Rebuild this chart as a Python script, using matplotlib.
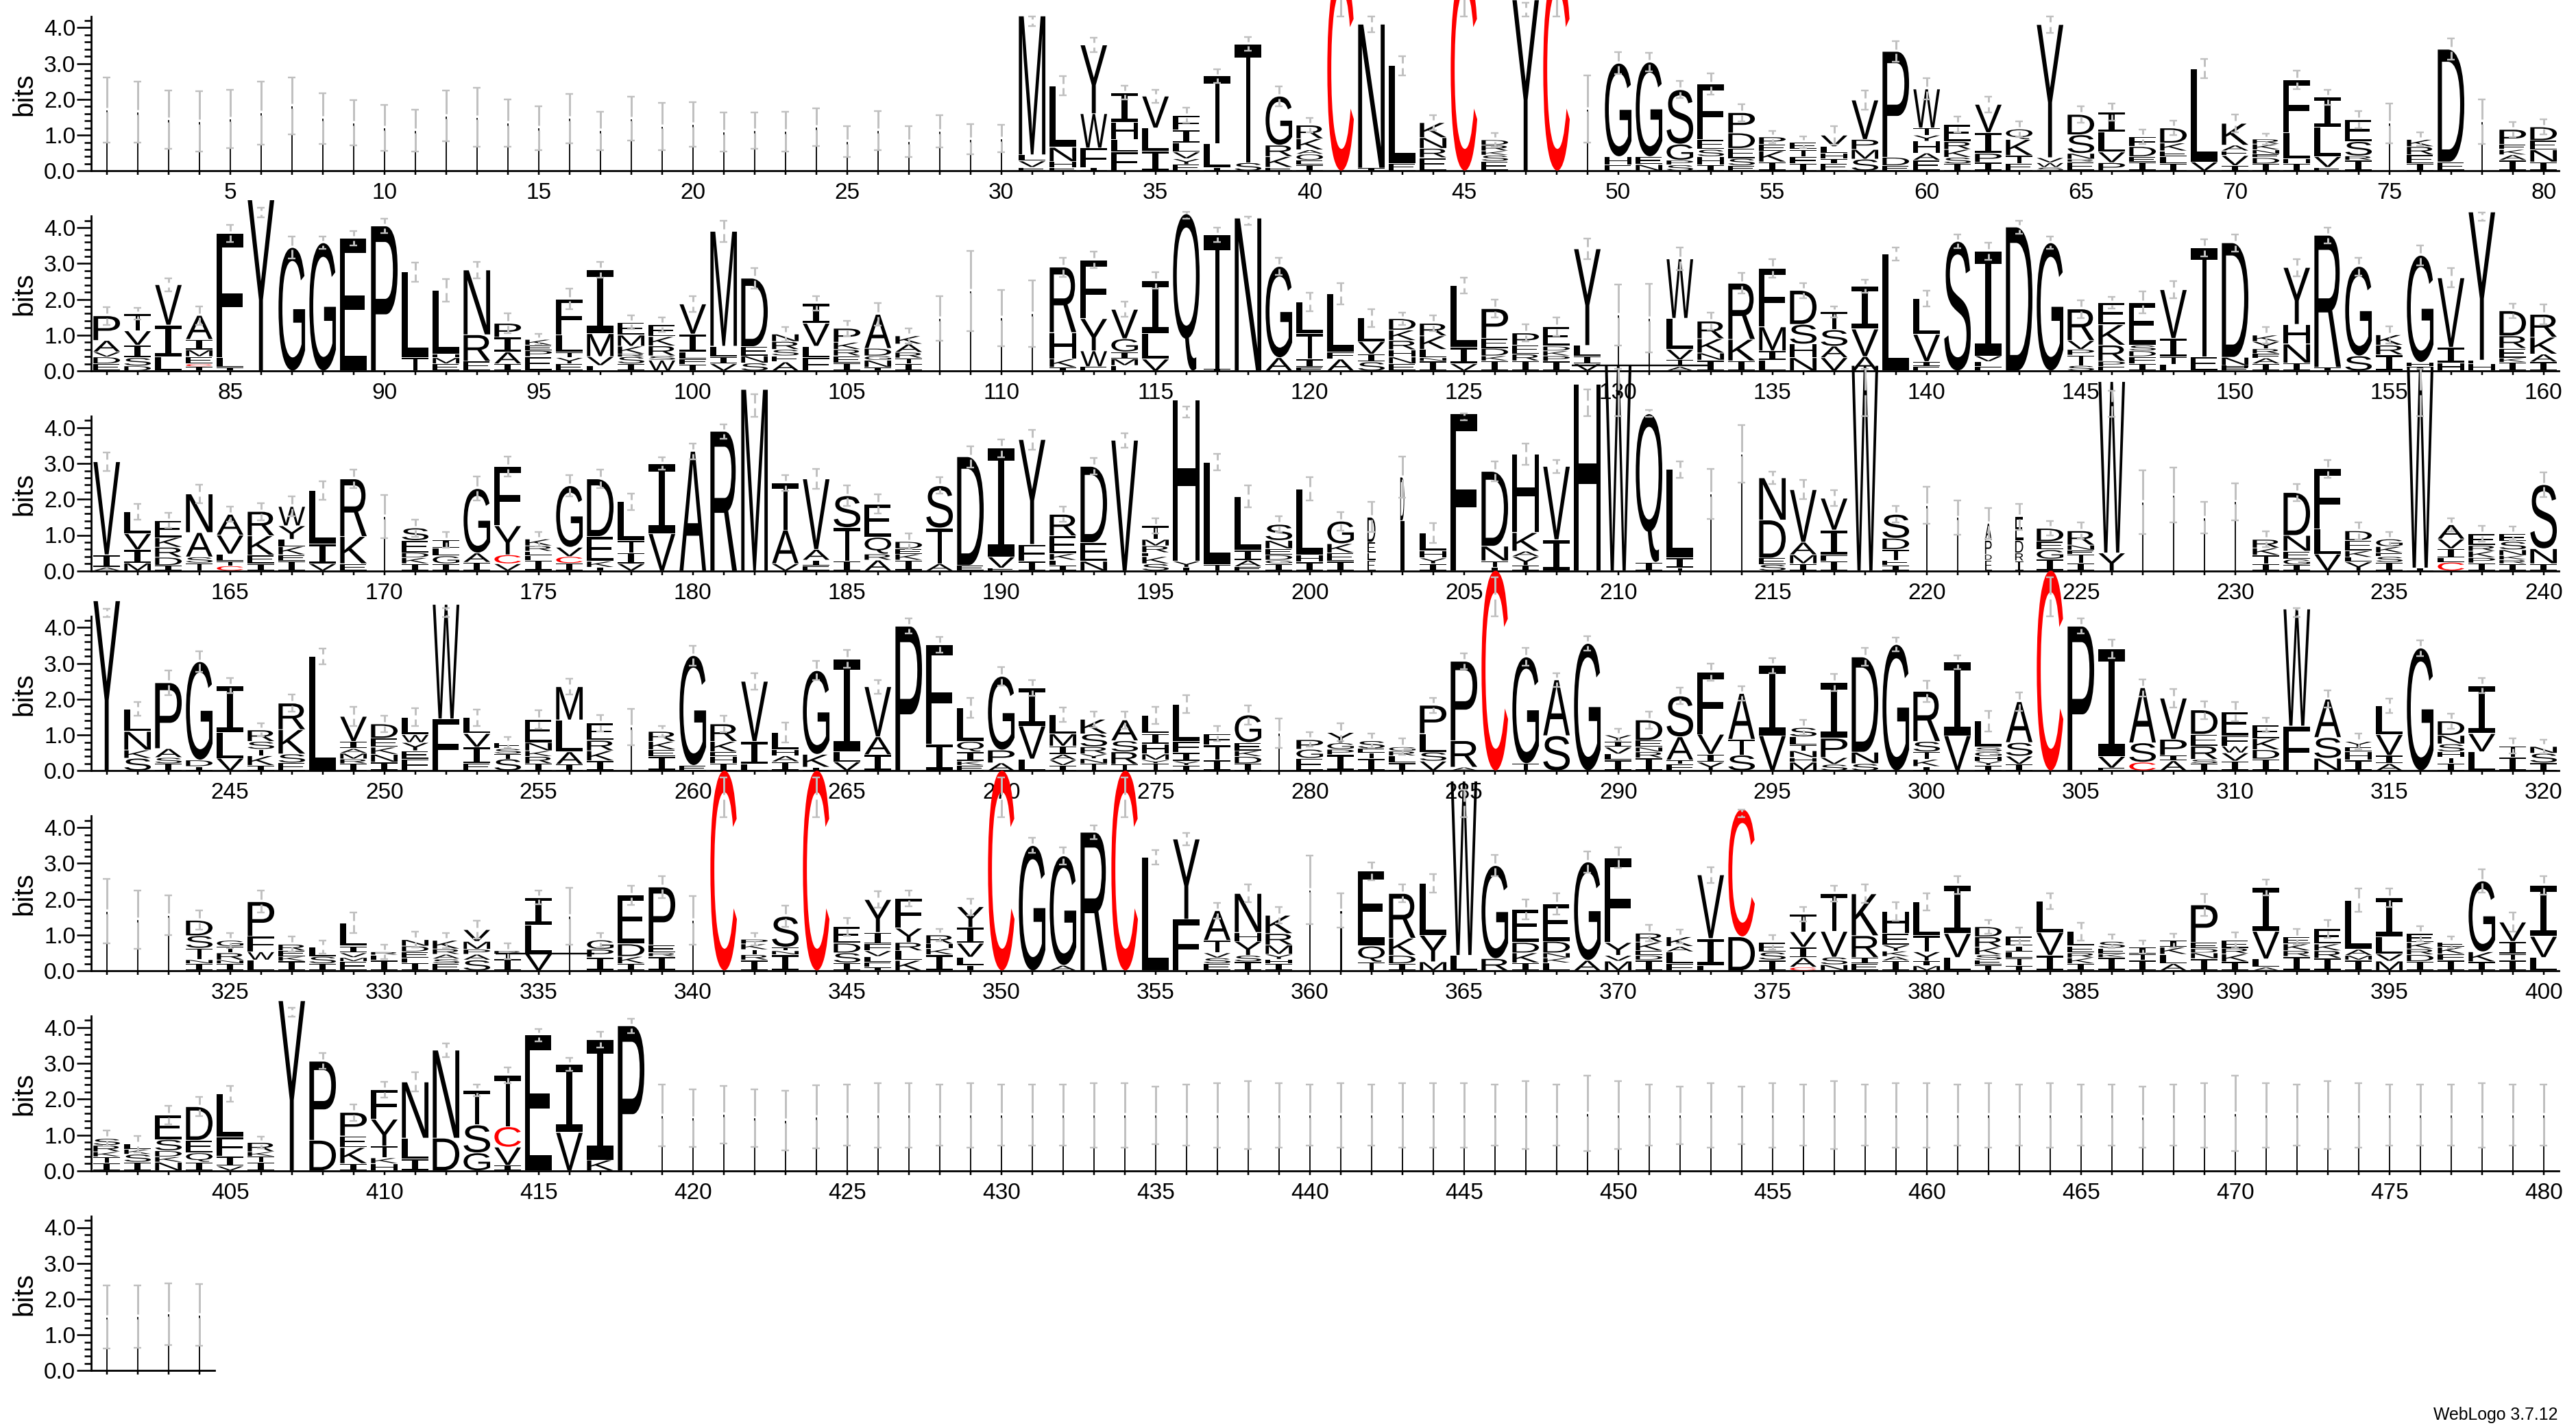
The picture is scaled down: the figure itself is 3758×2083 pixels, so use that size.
import re
import matplotlib
matplotlib.use("Agg")
import matplotlib.pyplot as plt
from matplotlib.patches import PathPatch
from matplotlib.textpath import TextPath
from matplotlib.font_manager import FontProperties
from matplotlib.transforms import Affine2D
from matplotlib.ticker import MultipleLocator, FixedLocator, FuncFormatter

# letters: token = letter + cumulative top of that letter in bits, bottom to top
STACKS_1 = [
 "i1.71","i1.64","i1.43","i1.38","i1.45","i1.62","i1.82","i1.47","i1.34","i1.21",
 "i1.13","i1.53","i1.5","i1.33","i1.2","i1.47","i1.12","i1.46","i1.25","i1.3",
 "i1.09","i1.13","i1.1","i1.22","i.82","i1.13","i.82","i1.1","i.88","i.9",
 "E.1 V.28 L.45 M4.33","E.1 H.26 N.66 L2.38","I.1 F.64 W1.6 Y3.52","F.53 L.88 H1.36 I2.19","I.55 L1.2 V2.09","E.18 Y.34 V.53 L.79 I1.14 F1.55","I.1 L.77 T2.65","S.23 T3.55","E.1 K.4 R.72 G2.09","I.17 E.3 O.47 A.59 K.9 R1.28",
 "C5.6","I.08 N4.1","E.2 L2.94","E.37 R.63 N.93 K1.35","C5.6","E.27 S.44 K.56 R.72 D.87","Y4.78","C5.6","i1.73","E.16 H.4 G3.01",
 "N.18 E.4 G3.04","S.17 P.3 G.75 S2.27","I.16 H.4 S.6 E.87 F2.43","E.15 S.35 E.63 D1.06 P1.63","I.25 K.56 E.74 P.95","I.2 F.4 T.6 E.8","E.2 I.34 H.5 L.68 V1.0","S.33 M.6 P.88 V1.98","E.15 D.38 P3.34","E.3 A.5 H.83 Y1.0 T1.2 W2.29",
 "I.2 S.38 K.6 R.82 E1.3","I.24 P.49 I1.07 V1.86","E.2 T.43 K.88 Q1.17","S.1 W.23 V.37 Y4.09","E.25 R.33 N.49 S1.01 D1.58","P.23 V.53 L1.09 I1.65","I.25 E.4 D.68 F.96","I.2 L.4 E.56 K.78 D1.2","V.25 L2.86","I.15 V.43 E.56 A.72 K1.33",
 "I.2 D.37 E.47 N.59 K.75 R.89","I.2 H.34 L1.07 F2.55","E.1 V.4 L1.23 I2.06","I.3 R.42 S.82 E1.44","i1.33","I.2 E.45 R.68 K.88","E.25 D3.4","i1.38","I.3 A.45 K.6 E.74 P1.16","I.25 N.59 E.85 D1.23",
]
HIGH_1 = [
 2.62,2.49,2.24,2.22,2.26,2.50,2.61,2.18,1.97,1.85,
 1.71,2.24,2.32,1.99,1.81,2.16,1.66,2.08,1.91,1.93,
 1.63,1.64,1.66,1.74,1.26,1.68,1.25,1.55,1.30,1.28,
 4.31,2.65,3.72,2.39,2.27,1.76,2.85,3.75,2.37,1.49,
 5.41,4.32,3.21,1.56,5.41,1.06,4.69,5.41,2.67,3.32,
 3.3,2.51,2.72,1.87,1.12,.96,1.26,2.24,3.63,2.59,
 1.52,2.08,1.39,4.32,1.81,1.89,1.16,1.4,3.12,1.58,
 1.04,2.81,2.27,1.68,1.89,1.07,3.7,2.0,1.37,1.44,
]
STACKS_2 = [
 "E.2 D.39 V.53 A.85 P1.54","D.14 S.37 I.72 V1.12 T1.6","L.39 I1.28 V2.41","I.12 C.2 E.4 M.59 I.88 A1.55","I.1 L.37 F3.85","Y4.78","G3.45","G3.58","E3.71","P4.05",
 "T.37 L2.76","E.2 M.37 H.47 L2.25","E.27 R1.01 N2.82","I.2 A.53 I.94 P1.33","E.4 P.57 E.72 K.88","E.2 Y.37 T.53 L1.01 F2.01","L.15 V.4 M1.04 I2.83","I.2 S.4 R.47 K.69 M1.0 E1.36","W.3 S.42 R.7 K.96 E1.3","I.18 F.34 L.53 I1.03 V1.87",
 "V.2 I.4 L.69 M3.9","S.22 N.42 E.68 D2.59","A.25 E.42 S.6 R.82 N1.03","F.37 L.69 V1.33 I1.88","I.22 E.42 R.6 K.8 P1.19","I.1 N.3 G.42 D.63 A1.58","I.2 T.36 R.52 A.75 K.98","i1.46","i2.24","i1.48",
 "i1.6","I.1 K.34 H1.07 R2.9","E.12 W.56 Y1.46 F3.1","E.15 M.34 I.53 G.9 V1.72","V.33 L1.04 I2.52","Q4.39","I.05 T3.8","N4.27","A.37 G2.92","E.1 I.33 T1.04 L1.93",
 "A.33 F.53 L2.16","S.25 I.47 V.82 L1.48","E.2 N.39 H.59 R.85 K1.14 D1.46","I.27 N.37 L.6 K.98 R1.33","V.2 I.66 L2.38","I.28 K.42 D.63 E.91 P1.74","I.28 R.47 E.72 P1.06","I.27 P.42 K.56 D.69 E1.23","V.2 I.42 L.71 Y3.41","i1.56",
 "i1.47","A.12 T.31 V.6 L1.47 W3.13","I.3 N.5 K.9 R1.39","I.28 K.88 R2.45","L.3 I.56 M1.23 F2.87","N.37 H.75 S1.3 D2.25","V.37 A.69 S1.15 T1.65","A.4 V1.17 I2.37","L3.27","E.12 I.26 V1.02 L2.03",
 "S3.62","F.12 L.26 V.42 I3.34","D4.02","G3.58","S.15 T.44 P.6 V.85 R1.73","E.12 P.27 R.72 K1.29 E1.91","I.2 F.4 D.56 S.72 E1.91","L.18 T.4 I.91 V2.27","E.4 T3.44","E.1 H.15 N.38 D3.58",
 "I.2 A.36 F.48 R.62 Y.82 K1.0","I.22 N.75 H1.3 Y2.89","I.1 R3.79","S.42 G2.92","I.45 R.72 K1.01","I.12 H.24 G3.23","H.22 I.66 V2.6","H.2 E.3 Y4.44","I.24 K.36 E.63 R.98 D1.68","I.25 A.47 K.94 R1.58",
]
HIGH_2 = [
 1.79,1.76,2.59,1.81,4.09,4.55,3.75,3.75,3.91,4.25,
 3.02,2.57,3.05,1.6,1.04,2.29,3.05,1.55,1.5,2.09,
 4.2,2.88,1.23,2.08,1.4,1.9,1.19,2.08,3.36,2.27,
 2.53,3.17,3.33,1.93,2.75,4.45,4.0,4.31,3.16,2.19,
 2.46,1.73,1.63,1.55,2.6,1.99,1.3,1.49,3.69,2.41,
 2.43,3.44,1.63,2.73,3.13,2.46,1.81,2.55,3.45,2.25,
 3.82,3.58,4.2,3.75,1.98,2.07,2.22,2.5,3.68,3.82,
 1.23,3.13,4.01,3.17,1.25,3.51,2.87,4.43,1.88,1.85,
]
STACKS_3 = [
 "A.1 I.45 V3.05","M.22 I.59 V1.04 L1.66","I.15 D.38 R.66 K.93 E1.41","T.22 S.39 A1.07 N2.15","C.14 T.27 L.47 V1.0 A1.58","I.2 E.44 K.98 R1.66","I.28 E.45 K.68 L.88 Y1.26 W1.8","V.2 I.75 L2.25","E.2 K.96 R2.57","i1.52",
 "I.2 K.37 D.51 E.85 S1.2","I.2 G.42 L.63 I.87","I.24 A.5 G2.3","V.2 C.45 Y1.26 F2.92","I.3 F.43 E.55 R.7 K.89","I.21 C.4 V.66 G2.38","I.1 K.27 E.96 D2.57","V.2 I.51 T.85 L1.93","V1.04 I3.0","A3.34",
 "R3.9","M5.07","V.2 A1.14 T2.45","E.14 I.3 A.6 V2.57","I.28 T1.21 S2.1","A.3 R.47 Q.94 E1.87","I.3 K.47 E.62 D.82","A.2 T1.2 S2.38","E.15 D3.19","E.08 V.39 I3.43",
 "I.27 F.74 Y3.67","I.15 L.3 K.48 E.98 R1.58","N.27 E.79 D2.92","V3.65","S.2 K.4 L.51 R.7 M.88 T1.26","I.1 Y.27 H4.78","T.18 L3.04","E.12 A.3 I.57 L2.08","I.2 G.3 D.45 E.62 N.85 S1.3","I.25 H.44 L2.29",
 "I.27 E.5 K.76 G1.39","E.3 L.5 E.8 D1.5","i1.4 D2.62","I.2 Y.36 H.56 L1.06","F4.39","I.1 T.28 N.69 D2.78","I.15 Y.4 A.55 K1.07 H3.26","I.87 V2.92","H5.22","W5.74",
 "I.24 Q4.39","T.08 I.37 L2.83","i2.15","i3.27","S.18 E.36 D1.42 N2.6","I.2 M.45 A.8 V2.27","I.28 F.45 I1.14 V2.03","W5.74","I.15 E.3 T.6 D.91 S1.58","i1.83",
 "i1.49","E.3 D.46 P.85 A1.33","I.28 R.5 D.85 E1.51","I.33 G.59 E.82 D1.19","I.22 T.46 E.58 N.72 R1.12","Y.5 W5.29","i1.92","i2.12","i1.48","i1.93",
 "I.2 T.44 K.64 R.88","I.17 G.33 E.55 N.99 D2.19","V.47 L1.17 F2.85","Y.25 L.38 K.56 E.85 D1.12","I.24 S.4 E.5 K.68 G.89","I.08 W5.7","C.24 L.36 I.62 V.89 A1.29","I.22 P.37 K.55 R.71 E1.04","I.2 R.31 K.43 N.59 S.82 E1.04","I.2 N.62 S2.41",
]
HIGH_3 = [
 3.31,1.88,1.62,2.4,1.79,1.9,2.08,2.51,2.83,2.13,
 1.44,1.09,2.64,3.2,1.09,2.68,2.82,2.16,3.17,3.56,
 4.1,4.94,2.67,2.84,2.38,2.14,1.04,2.61,3.49,3.68,
 3.95,1.79,3.15,3.85,1.47,4.6,3.27,2.38,1.52,2.61,
 1.65,1.92,3.2,1.34,4.4,3.06,3.56,3.1,5.07,5.65,
 4.5,3.06,2.85,4.07,2.78,2.54,2.25,5.65,1.81,2.35,
 1.97,1.76,1.87,1.39,1.35,5.04,2.81,2.89,1.92,2.45,
 1.1,2.43,3.1,1.36,1.09,5.65,1.47,1.26,1.23,2.76,
]
STACKS_4 = [
 "Y4.75","S.35 K.58 N1.1 L1.73","I.2 S.37 A.62 P2.46","I.12 D.3 G3.05","V.35 L1.06 I2.38","I.15 K.42 T.6 S.82 R1.14","E.22 S.47 K1.15 R1.89","L3.2","I.2 R.33 M.49 A.62 I.82 V1.52","I.24 N.46 K.66 E.91 D1.31",
 "F.33 E.56 Y.79 W1.01 L1.5","F1.45 W4.65","E.2 I.66 V1.04 L1.49","S.33 T.47 S.62 E.79","I.2 R.4 K.56 N.79 E1.44","I.18 A.53 L1.42 M2.35","I.28 K.56 R.85 E1.33","i1.22","I.4 E.59 K.82 R1.1","E.15 G3.22",
 "I.2 H.4 E.53 K.82 R1.31","L.18 I.82 V2.5","I.25 A.42 H.59 L1.07","I.1 K.46 G2.8","V.25 L.53 I3.12","I.45 A.95 V2.35","P4.04","I.75 F3.53","E.15 K.27 I.53 Q.82 L1.76","A.22 P.58 G2.64",
 "L.33 V1.25 I2.32","I.15 V.3 A.46 I.69 M1.03 L1.56","T.2 N.34 Y.47 R.67 S1.03 K1.44","T.18 R.53 S.84 A1.42","T.2 Y.3 M.47 H.75 I1.04 L1.55","I.15 Y.27 I.51 F.82 L1.86","I.3 T.72 F1.04","I.2 D.4 K.56 E.79 G1.56","i1.05","E.35 G.6 P.87",
 "I.45 P.6 G.78 Y1.07","I.35 T.5 E.62 S.84","I.22 L.42 R.55 G.67","V.27 S.52 L1.04 P1.83","A.1 R.84 P3.06","C5.6","T.2 G3.18","S.98 A2.54","G3.56","I.3 L.47 V.66 I.82 Y1.0",
 "I.36 R.53 N.66 E.85 D1.42","F.18 T.3 A.95 S2.09","Y.24 I.46 V1.02 F2.75","S.44 T.88 A2.16","V.98 I2.94","M.24 H.37 N.56 T.72 L.95 S1.21","S.18 V.37 P.91 I2.46","S.2 N.52 D3.18","G3.53","I.12 K.32 T.53 S.82 R2.22",
 "V.98 I3.04","I.15 Y.27 H.4 G.53 S.66 L1.39","I.18 V.41 S.79 A1.93","C5.6","P4.04","E.08 V.4 I3.4","C.24 S.78 A2.32","A.28 I.43 P.88 V2.03","I.2 S.32 R.69 E1.02 D1.7","I.27 V.5 W.69 F.98 E1.65",
 "I.33 D.59 K.9 E1.28","F1.25 W4.52","N.35 S.93 A2.0","I.3 H.53 E.66 Y.82","A.2 I.43 V1.01 L1.81","G3.43","I.2 T.37 H.53 S.75 N.99 D1.39","L.53 V1.04 I2.38","I.38 T.69","I.22 S.49 N.68",
]
HIGH_4 = [
 4.52,1.93,2.8,3.34,2.59,1.32,2.13,3.42,1.78,1.54,
 1.74,4.55,1.72,.95,1.7,2.57,1.56,1.73,1.26,3.5,
 1.54,2.73,1.34,3.07,3.37,2.54,4.25,3.75,2.03,2.89,
 2.54,1.76,1.66,1.66,1.79,2.11,1.26,1.83,1.47,1.07,
 1.32,1.04,.9,2.04,3.28,5.41,3.43,2.73,3.77,1.18,
 1.66,2.32,2.99,2.36,3.15,1.42,2.7,3.43,3.72,2.51,
 3.23,1.68,2.19,5.41,4.25,3.66,2.56,2.29,1.95,1.92,
 1.49,4.55,2.24,1.04,2.01,3.65,1.6,2.59,.9,.87,
]
STACKS_5 = [
 "i1.66","i1.43","i1.55","I.2 N.31 T.63 S.98 D1.41","I.2 N.3 R.5 T.68 G.85","L.3 W.53 F.96 P1.93","I.27 K.4 E.56 R.74","I.2 S.4 L.66","E.26 M.37 V.5 I.69 L1.34","I.3 F.44 R.53",
 "I.22 F.36 E.53 D.69 N.87","E.2 S.33 A.46 R.61 K.85","S.3 A.46 P.6 M.82 V1.15","I.33 T.5 R.55","V.47 L1.28 I2.05","i1.52","I.38 P.6 G.86","I.2 K.4 D.75 E2.11","I.4 R.5 E.72 P2.34","i1.41",
 "C5.6","I.3 R.45 T.59 K.75 P.88","I.45 N.56 T.66 S1.52","C5.6","I.22 S.5 D.77 E1.23","I.1 E.24 L.4 V.56 F.75 I1.07 Y1.99","K.29 L.56 R.79 Y1.19 F2.03","I.45 K.62 H.75 R1.0","I.15 L.38 V.77 I1.21 Y1.79","C5.6",
 "G3.5","A.15 G3.21","R3.87","C5.6","L3.17","F1.44 Y3.68","E.2 S.36 V.5 T.85 A1.68","I.25 S.43 Y.82 H1.07 N2.16","I.2 H.32 Y.46 M.72 R1.04 K1.55","i2.26",
 "i1.68","T.24 Q.69 E2.78","I.2 D.43 K.91 R2.16","M.25 Y.99 L2.44","L.43 W5.3","R.34 G2.94","I.22 K.5 D.79 E1.72","L.22 K.36 N.5 D.82 E1.87","A.29 G3.04","M.27 V.43 Y.79 F3.16",
 "I.3 D.43 E.56 K.8 R1.05","F.2 L.53 A.68 K.95","L.15 I.9 V2.68","D.95 C4.52","I.3 S.52 E.79","C.1 A.37 I.66 V1.09 T1.58","N.17 S.38 V1.1 T2.16","E.2 I.37 R.98 K2.15","I.28 A.4 K.55 Y.72 E1.04 H1.66","M.14 I.27 Y.53 T.98 L1.93",
 "L.37 V1.04 I2.39","I.17 E.3 S.45 K.66 R.95 D1.23","I.14 T.35 L.53 I.69 E.96","I.43 V1.07 L1.95","I.2 K.36 R.5 E.69 L1.1","I.37 K.47 E.63 S.82","I.3 T.47 I.66","A.2 L.46 K.66 I.85","I.34 N.5 D.62 E.79 P1.84","I.25 K.47 R.63 E.85",
 "A.1 L.33 V1.1 I2.33","I.4 R.56 K.75 E.94","I.35 R.56 K.75 E1.17","I.3 M.43 A.6 L1.97","M.27 V.47 L.95 I2.04","I.26 D.45 R.61 K.79 E1.04","I.3 F.47 K.66 E.8","I.25 K.53 G2.51","I.3 T.47 I.82 V1.36","L.37 V.96 I2.38",
]
HIGH_5 = [
 2.56,2.25,2.11,1.68,1.06,2.24,.95,.85,1.62,.73,
 1.09,1.06,1.4,.77,2.25,2.32,1.06,2.38,2.65,2.09,
 5.41,1.06,1.82,5.41,1.48,2.22,2.25,1.17,2.02,5.41,
 3.71,3.45,4.07,5.41,3.37,3.86,1.9,2.41,1.78,3.22,
 2.16,3.03,2.41,2.7,5.05,3.23,2.0,2.16,3.34,3.45,
 1.28,1.14,2.9,4.5,.99,1.78,2.38,2.41,1.92,2.17,
 2.64,1.42,1.2,2.17,1.35,1.01,.85,1.04,2.14,1.07,
 2.55,1.16,1.42,2.3,2.3,1.25,.96,2.83,1.62,2.64,
]
STACKS_6 = [
 "I.22 T.39 K.53 R.71 S.9","I.24 S.46 K.6 L.75","N.24 K.39 D.56 S.87 E1.56","I.24 Q.5 E.85 D1.79","V.13 I.4 F.95 L2.15","I.24 T.4 K.53 R.79","Y4.75","D.85 P3.06","I.2 K.65 E.97 P1.63","H.2 K.36 T.69 Y1.44 F2.27",
 "I.33 L.91 N2.48","D.91 N3.37","G.5 S1.28 T2.25","I.15 V.66 C1.23 T2.67","E3.79","V1.07 I2.98","K.3 I3.66","P4.05","i1.54","i1.47",
 "i1.57","i1.47","i1.4","i1.5","i1.55","i1.55","i1.55","i1.55","i1.55","i1.55",
 "i1.55","i1.55","i1.55","i1.55","i1.55","i1.55","i1.55","i1.55","i1.55","i1.55",
 "i1.55","i1.55","i1.55","i1.55","i1.55","i1.55","i1.55","i1.55","i1.6","i1.55",
 "i1.55","i1.55","i1.55","i1.55","i1.55","i1.55","i1.55","i1.55","i1.55","i1.55",
 "i1.55","i1.55","i1.55","i1.55","i1.55","i1.55","i1.5","i1.55","i1.55","i1.6",
 "i1.55","i1.55","i1.55","i1.55","i1.55","i1.55","i1.55","i1.55","i1.55","i1.55",
]
HIGH_6 = [
 1.12,.98,1.82,2.06,2.37,.96,4.55,3.28,1.86,2.49,
 2.75,3.56,2.41,2.89,3.96,3.16,3.88,4.25,2.4,2.27,
 2.37,2.27,2.23,2.38,2.4,2.45,2.45,2.4,2.45,2.4,
 2.4,2.4,2.45,2.45,2.35,2.4,2.45,2.5,2.45,2.4,
 2.45,2.4,2.45,2.45,2.45,2.4,2.5,2.4,2.65,2.5,
 2.4,2.35,2.45,2.35,2.45,2.4,2.5,2.4,2.45,2.45,
 2.4,2.45,2.4,2.45,2.4,2.4,2.35,2.4,2.45,2.65,
 2.45,2.4,2.5,2.45,2.4,2.4,2.4,2.45,2.4,2.4,
]
STACKS_7 = ["i1.5","i1.51","i1.58","i1.55"]
HIGH_7 = [2.38,2.39,2.44,2.41]

# lower caps that are not mirrored around the stack top
LOW_CAP = {31:4.05,41:4.31,45:4.31,47:4.31,48:4.31,86:4.3,116:4.25,118:4.09,158:4.2,182:4.3,
           196:4.28,205:4.2,209:4.32,210:4.32,211:4.3,218:4.32,226:4.3,236:4.32,241:4.3,252:4.3,
           286:4.32,304:4.32,312:4.3,341:4.3,344:4.3,350:4.3,354:4.3,365:4.3,374:4.3,407:4.3}
# stack widths below 1 (gappy columns)
NARROW = {p:.012 for p in list(range(1,31))+[49,75,78,108,109,110,111,130,131,170,213,214,227,228,
          321,322,323,336,340,360]+list(range(419,485))}
NARROW.update({202:.3,203:.15,220:.03,221:.03,222:.25,223:.3,229:.03,230:.03,258:.03,279:.02,361:.06})
STRAY_BARS = [(128.5,132.9,.15),(333.6,336.8,.47)]

STACKS = [STACKS_1,STACKS_2,STACKS_3,STACKS_4,STACKS_5,STACKS_6,STACKS_7]
HIGHS = [HIGH_1,HIGH_2,HIGH_3,HIGH_4,HIGH_5,HIGH_6,HIGH_7]
ROW_BASE = [249.3,541,832.7,1124.3,1416,1707.7,1999.3]

W, H = 3758, 2083
PXPT = 0.72
UNIT = 52.2
PITCH = 45.0
LEFT = 133.2
TOP_BITS = 4.32

sans = FontProperties(family="Liberation Sans")
mono = FontProperties(family="Liberation Mono")
cache = {}
def glyph(ch):
    if ch not in cache:
        if ch == "i":
            p = TextPath((0,0),"I",size=1,prop=sans)
        elif ch == "I":
            p = TextPath((0,0),"I",size=1,prop=mono)
        else:
            p = TextPath((0,0),ch,size=1,prop=sans)
        bb = p.get_extents()
        cache[ch] = Affine2D().translate(-bb.x0,-bb.y0).scale(1/bb.width,1/bb.height).transform_path(p)
    return cache[ch]

fig = plt.figure(figsize=(W/100,H/100),dpi=100)
fig.patch.set_facecolor("white")
token = re.compile(r"([A-Za-z])([0-9.]+)")
GREY = "#c0c0c0"
start = 1
for stacks, highs, base in zip(STACKS,HIGHS,ROW_BASE):
    n = len(stacks)
    ax = fig.add_axes([LEFT/W,(H-base)/H,n*PITCH/W,TOP_BITS*UNIT/H])
    ax.patch.set_visible(False)
    ax.set_xlim(start-.5,start+n-.5)
    ax.set_ylim(0,TOP_BITS)
    for s in ("top","right"):
        ax.spines[s].set_visible(False)
    for s in ("left","bottom"):
        ax.spines[s].set_linewidth(2.8*PXPT)
    ax.yaxis.set_major_locator(MultipleLocator(1))
    ax.yaxis.set_minor_locator(MultipleLocator(.2))
    ax.yaxis.set_major_formatter(FuncFormatter(lambda v,_:f"{v:.1f}"))
    ax.xaxis.set_major_locator(FixedLocator(list(range(start,start+n))))
    ax.xaxis.set_major_formatter(FuncFormatter(lambda v,_:str(int(round(v))) if int(round(v))%5==0 else ""))
    ax.tick_params(axis="y",which="major",length=21*PXPT,width=2.6*PXPT,pad=2*PXPT,labelsize=24,labelfontfamily="Liberation Sans")
    ax.tick_params(axis="y",which="minor",length=10.5*PXPT,width=2.6*PXPT)
    ax.tick_params(axis="x",which="major",length=6*PXPT,width=2.5*PXPT,pad=11*PXPT,labelsize=24,labelfontfamily="Liberation Sans")
    ax.text(35,H-(base-112),"bits",transform=None,rotation=90,ha="center",va="center",
            fontsize=29,family="Liberation Sans")
    for k,(st,hi) in enumerate(zip(stacks,highs)):
        pos = start+k
        w = NARROW.get(pos,1.0)
        half = .43*w
        bottom = 0.0
        for ch,top in token.findall(st):
            top = float(top)
            tall = top-bottom
            shrink = .02 if tall>.08 else 0
            tr = Affine2D().scale(2*half,tall-shrink).translate(pos-half,bottom+shrink/2)
            col = "#ff0000" if ch=="C" else "black"
            lw = .6 if w<.1 else 0
            ax.add_patch(PathPatch(tr.transform_path(glyph(ch)),facecolor=col,edgecolor=col,
                                   linewidth=lw,clip_on=False,zorder=3))
            bottom = top
        h = bottom
        lo = LOW_CAP.get(pos,2*h-hi)
        mid = (hi+lo)/2
        gap = min(.065,(hi-lo)/4)
        ax.vlines([pos,pos],[lo,mid+gap],[mid-gap,hi],color=GREY,linewidth=3*PXPT,zorder=4,clip_on=False)
        ax.hlines([lo,hi],pos-.12,pos+.12,color=GREY,linewidth=2.4*PXPT,zorder=4,clip_on=False)
    for x0,x1,y in STRAY_BARS:
        if start<=x0<start+n:
            ax.hlines(y,x0,x1,color="black",linewidth=2.4*PXPT,zorder=3)
    start += n

fig.text(3732/W,1-2064/H,"WebLogo 3.7.12",ha="right",va="center",fontsize=17.9,family="Liberation Sans")
fig.savefig("out.png",dpi=100,facecolor="white")
